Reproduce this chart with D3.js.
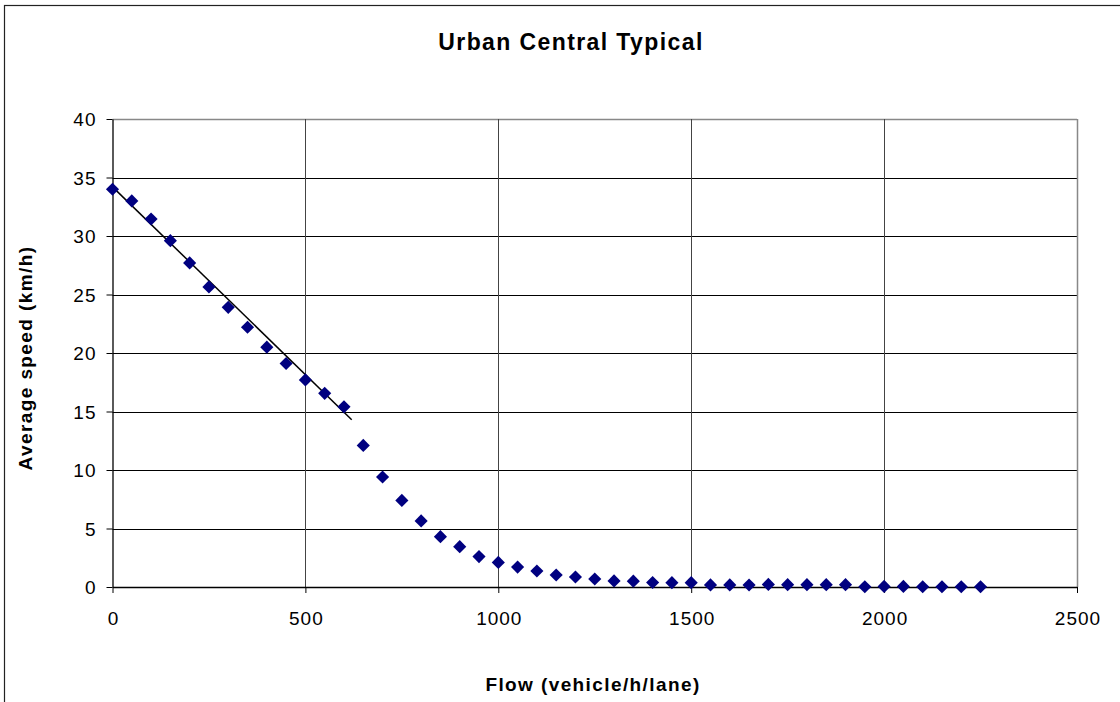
<!DOCTYPE html>
<html lang="en">

<head>
    <meta charset="UTF-8">
    <title>Urban Central Typical</title>
    <style>
        body {
            padding: 0;
            margin: 0;
            background: #fff;
        }
        svg {
            display: block;
        }
    </style>
</head>

<body>
    <script src="https://d3js.org/d3.v7.min.js"></script>
    <script>
        // flow (vehicle/h/lane)
        const flow = [0, 50, 100, 150, 200, 250, 300, 350, 400, 450, 500, 550, 600, 650, 700, 750, 800, 850,
            900, 950, 1000, 1050, 1100, 1150, 1200, 1250, 1300, 1350, 1400, 1450, 1500, 1550, 1600, 1650,
            1700, 1750, 1800, 1850, 1900, 1950, 2000, 2050, 2100, 2150, 2200, 2250];
        // average speed (km/h)
        const speed = [34.0, 33.0, 31.45, 29.6, 27.7, 25.65, 23.9, 22.2, 20.5, 19.1, 17.7, 16.55, 15.4, 12.1,
            9.4, 7.4, 5.65, 4.3, 3.45, 2.6, 2.1, 1.7, 1.37, 1.03, 0.85, 0.68, 0.52, 0.5, 0.38, 0.37, 0.37,
            0.18, 0.18, 0.17, 0.22, 0.2, 0.2, 0.2, 0.2, 0.02, 0.05, 0.05, 0.02, 0.02, 0.02, 0.02];
        // linear trend line end points
        const trendX = [0, 620];
        const trendY = [34.2, 14.3];

        const xTicks = [0, 500, 1000, 1500, 2000, 2500];
        const yTicks = [0, 5, 10, 15, 20, 25, 30, 35, 40];

        const width = 1120, height = 702;
        const plotL = 112.5, plotR = 1077, plotT = 119, plotB = 587;
        const font = "'Liberation Sans', Arial, sans-serif";

        const svg = d3.select('body').append('svg')
            .attr('width', width)
            .attr('height', height);

        // chart frame
        svg.append('rect')
            .attr('x', 4.5).attr('y', 5.5)
            .attr('width', 1200).attr('height', 800)
            .attr('fill', 'none')
            .attr('stroke', '#222')
            .attr('stroke-width', 1.2);

        const x = d3.scaleLinear().domain([0, 2500]).range([plotL, plotR]);
        const y = d3.scaleLinear().domain([0, 40]).range([plotB, plotT]);

        // gridlines
        svg.append('g')
            .selectAll('line')
            .data(yTicks.filter(d => d > 0))
            .join('line')
            .attr('x1', plotL).attr('x2', plotR)
            .attr('y1', d => Math.round(y(d)) + 0.5)
            .attr('y2', d => Math.round(y(d)) + 0.5)
            .attr('stroke', d => d === 40 ? '#888' : '#000')
            .attr('stroke-width', d => d === 40 ? 1.5 : 1);

        svg.append('g')
            .selectAll('line')
            .data(xTicks.filter(d => d > 0))
            .join('line')
            .attr('x1', d => Math.round(x(d)) + 0.5)
            .attr('x2', d => Math.round(x(d)) + 0.5)
            .attr('y1', plotT).attr('y2', plotB)
            .attr('stroke', d => d === 2500 ? '#888' : '#444')
            .attr('stroke-width', d => d === 2500 ? 1.5 : 1);

        // axes
        const yAxis = svg.append('g')
            .attr('transform', `translate(${plotL},0)`)
            .call(d3.axisLeft(y).tickValues(yTicks).tickSize(6).tickPadding(10).tickSizeOuter(0));
        const xAxis = svg.append('g')
            .attr('transform', `translate(0,${plotB})`)
            .call(d3.axisBottom(x).tickValues(xTicks).tickFormat(d3.format('d')).tickSize(6).tickSizeOuter(0));

        [xAxis, yAxis].forEach(a => {
            a.select('.domain').attr('stroke', '#000').attr('stroke-width', 1.3);
            a.selectAll('.tick line').attr('stroke', '#000');
            a.selectAll('.tick text')
                .attr('font-family', font)
                .attr('font-size', 19)
                .attr('fill', '#000')
                .style('letter-spacing', '1px');
        });
        xAxis.selectAll('.tick text').attr('y', 38).attr('dy', 0).attr('dx', 0.5);
        yAxis.selectAll('.tick text').attr('dy', '0.36em');

        // trend line
        svg.append('line')
            .attr('x1', x(trendX[0])).attr('y1', y(trendY[0]))
            .attr('x2', x(trendX[1])).attr('y2', y(trendY[1]))
            .attr('stroke', '#000')
            .attr('stroke-width', 1.5);

        // diamond markers
        const diamond = d3.symbol().type(d3.symbolDiamond2).size(110);
        svg.append('g')
            .selectAll('path')
            .data(flow.map((f, i) => [f, speed[i]]))
            .join('path')
            .attr('d', diamond)
            .attr('transform', d => `translate(${x(d[0])},${y(d[1])})`)
            .attr('fill', '#000080');

        // titles
        svg.append('text')
            .attr('x', 571).attr('y', 50)
            .attr('text-anchor', 'middle')
            .attr('font-family', font)
            .attr('font-weight', 'bold')
            .attr('font-size', 23)
            .style('letter-spacing', '1.4px')
            .text('Urban Central Typical');

        svg.append('text')
            .attr('x', 593).attr('y', 691)
            .attr('text-anchor', 'middle')
            .attr('font-family', font)
            .attr('font-weight', 'bold')
            .attr('font-size', 19)
            .style('letter-spacing', '1.4px')
            .text('Flow (vehicle/h/lane)');

        svg.append('text')
            .attr('transform', 'translate(32,358) rotate(-90)')
            .attr('text-anchor', 'middle')
            .attr('font-family', font)
            .attr('font-weight', 'bold')
            .attr('font-size', 19)
            .style('letter-spacing', '1.4px')
            .text('Average speed (km/h)');
    </script>

</body>

</html>
